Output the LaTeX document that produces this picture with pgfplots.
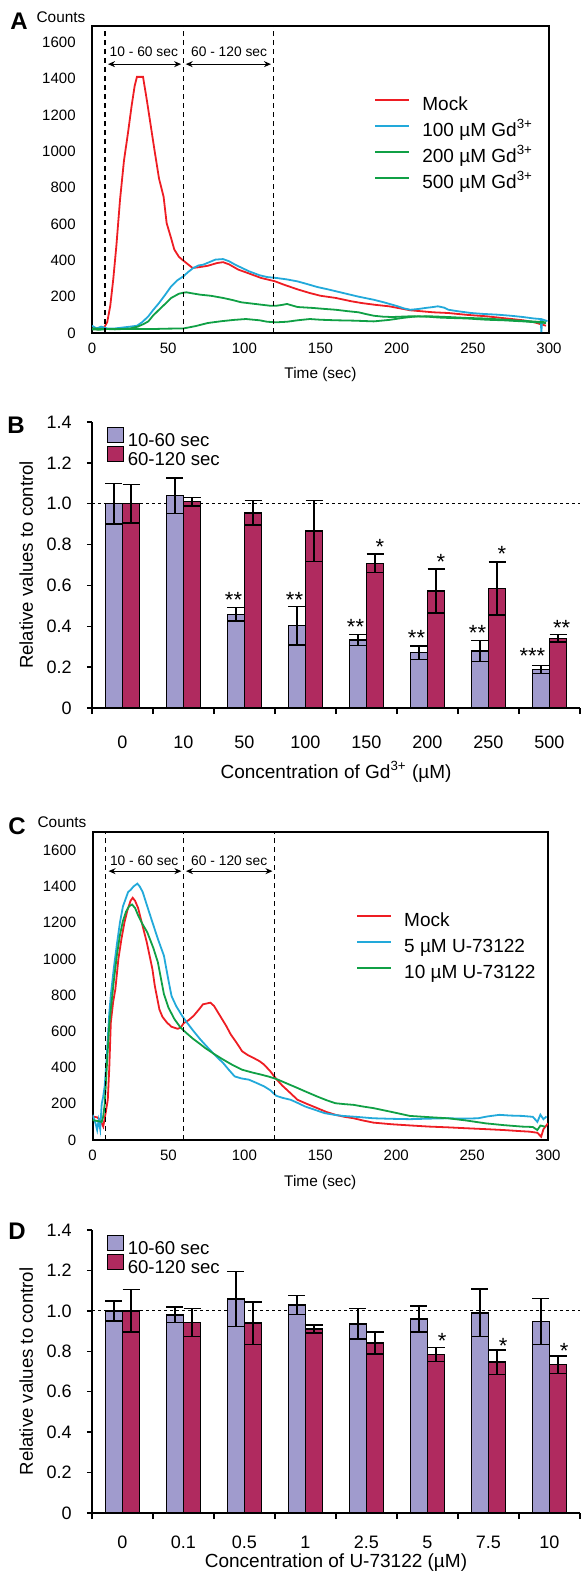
\documentclass[border=0pt]{standalone}
\usepackage{fontspec}
\setmainfont{Liberation Sans}
\usepackage{pgfplots}
\usepackage{pgfplotstable}
\pgfplotsset{compat=1.18}
\usetikzlibrary{arrows.meta}
\definecolor{mred}{HTML}{EE1D23}
\definecolor{mcyan}{HTML}{22A9DA}
\definecolor{mgreen}{HTML}{10A045}
\definecolor{barA}{HTML}{A09BCD}
\definecolor{barB}{HTML}{B02A5F}
\tikzset{starnode/.style={font=\fontsize{11}{12}\selectfont, inner sep=0pt}}

\pgfplotstableread{
x a aerr b berr
0 1.00 0.10 1.00 0.095
1 1.04 0.087 1.01 0.02
2 0.458 0.033 0.955 0.06
3 0.403 0.095 0.866 0.15
4 0.333 0.028 0.708 0.045
5 0.271 0.033 0.573 0.107
6 0.279 0.052 0.585 0.13
7 0.189 0.02 0.341 0.018
}\tableB
\pgfplotstableread{
x a aerr b berr
0 1.00 0.05 1.00 0.105
1 0.98 0.038 0.942 0.07
2 1.059 0.137 0.939 0.106
3 1.029 0.047 0.91 0.02
4 0.936 0.075 0.841 0.054
5 0.96 0.065 0.784 0.035
6 0.99 0.117 0.746 0.06
7 0.947 0.113 0.734 0.044
}\tableD

\pgfplotsset{
  linechart/.style={
    scale only axis, xmin=0, xmax=300, ymin=0,
    xtick={0,50,...,300}, ytick={0,200,...,1600},
    major tick length=0pt,
    axis line style={line width=1pt},
    tick label style={font=\fontsize{7.5}{9}\selectfont},
    /pgf/number format/assume math mode=true,
    /pgf/number format/1000 sep={},
    xticklabel style={anchor=center, yshift=-7.5pt},
    yticklabel style={anchor=east, inner sep=0pt, xshift=-8pt},
    xlabel style={font=\fontsize{7.7}{9}\selectfont, at={(axis description cs:0.5,0)}, anchor=center, yshift=-21pt},
    legend cell align=left,
    legend style={draw=none, fill=none, font=\fontsize{9.5}{11}\selectfont, inner sep=0pt, row sep=4pt,
      nodes={inner sep=0pt, text height=7pt, text depth=2pt},
      /tikz/every odd column/.style={column sep=6pt}},
    legend image code/.code={\draw[#1, line width=1pt] (0pt,2.5pt) -- (17pt,2.5pt);},
    every axis plot/.append style={line width=0.9pt},
  },
  barchart/.style={
    scale only axis, xmin=-0.5, xmax=7.5, ymin=0, ymax=1.4,
    axis x line*=bottom, axis y line*=left,
    axis line style={line width=0.75pt},
    xtick={0,...,7}, minor xtick={-0.5,0.5,...,7.5},
    major x tick style={draw=none},
    minor x tick style={black, line width=0.75pt},
    y tick style={black, line width=0.75pt},
    tick align=outside, major tick length=2.5pt, minor tick length=3pt,
    ytick={0,0.2,0.4,0.6,0.8,1.0,1.2,1.4},
    yticklabels={0,0.2,0.4,0.6,0.8,1.0,1.2,1.4},
    tick label style={font=\fontsize{9}{11}\selectfont},
    yticklabel style={anchor=east, inner sep=0pt, xshift=-7.5pt},
    ylabel={Relative values to control},
    ylabel style={font=\fontsize{9.3}{11}\selectfont, at={(axis description cs:-0.135,0.5)}, anchor=center},
    ybar, bar width=0.28,
    legend cell align=left,
    legend style={draw=none, fill=none, font=\fontsize{9.3}{11}\selectfont, inner sep=0pt, row sep=-2pt,
      nodes={inner sep=0pt, text height=7pt, text depth=2pt},
      /tikz/every odd column/.style={column sep=2pt},
      at={(axis description cs:0.029,0.985)}, anchor=north west},
    legend image code/.code={\draw[#1, draw=black, line width=0.6pt] (0pt,-0.5pt) rectangle (8pt,7pt);},
    error bars/y dir=both, error bars/y explicit,
    error bars/error bar style={line width=0.75pt, black},
    error bars/error mark options={rotate=90, mark size=4.25pt, line width=0.75pt, black},
  },
}

\begin{document}
\begin{tikzpicture}
\useasboundingbox (0,0) rectangle (290.5pt,-787pt);

% ---------------- Panel A ----------------
\node[font=\bfseries\fontsize{12}{14}\selectfont] at (9.5pt,-10.5pt) {A};
\node[font=\fontsize{7.7}{9}\selectfont] at (30.5pt,-8.5pt) {Counts};
\begin{axis}[linechart, at={(46pt,-166.5pt)}, anchor=south west,
  width=228.5pt, height=153.5pt, ymax=1690, xlabel={Time (sec)},
  legend style={at={(axis description cs:0.617,0.772)}, anchor=north west}]
\addplot[mred] coordinates {(0,25)(4,20)(8,30)(10,60)(12,150)(14,300)(16,480)(18.4,734)(21,950)(23.6,1100)(26,1250)(28,1360)(29.5,1410)(33.5,1410)(36,1282)(41,1008)(44,850)(47,750)(49,605)(52,520)(54,460)(57,420)(59,405)(62,385)(66,358)(70,362)(76,370)(82,385)(86,390)(90,378)(96,349)(103,328)(111,303)(120,285)(126,266)(135,240)(143,220)(150,205)(160,193)(170,175)(177,165)(186,155)(195,147)(209,125)(224,114)(234,110)(246,100)(259,92)(270,82)(283,70)(290,60)(296,45)(298,40)};
\addlegendentry{Mock}
\addplot[mcyan] coordinates {(0,40)(3,25)(6,35)(10,25)(15,25)(20,30)(25,35)(29.5,40)(33,60)(37,92)(40,125)(44,165)(48,210)(52,257)(56,290)(60,312)(63,335)(66.5,358)(70,372)(73,376)(77,390)(81,404)(86,407)(90,395)(94,376)(98,360)(103,340)(110,318)(115,308)(121,303)(128,295)(135,284)(141,270)(148,253)(155,240)(165,220)(175,200)(185,183)(192,168)(199.5,150)(205,135)(209,128)(214,132)(219,138)(224,143)(227,147)(231,140)(234,128)(240,120)(249,110)(257,105)(266,101)(275,95)(283,88)(290,80)(294.5,77)(295,5)(295.5,75)(299,65)};
\addlegendentry{100 µM Gd\textsuperscript{3+}}
\addplot[mgreen] coordinates {(0,20)(5,18)(10,22)(15,20)(20,22)(25,25)(30,35)(34,50)(37,64)(40,95)(44,128)(48,160)(52,193)(57,216)(60,222)(62,224)(66,218)(71,211)(78,205)(86,193)(92,182)(98,169)(105,162)(111,156)(117,150)(121,150)(125,155)(128,160)(132,150)(135,143)(145,138)(152,133)(160,128)(168,120)(175,114)(180,104)(185,95)(191,90)(197,88)(203,90)(209,92)(215,91)(222,92)(234,88)(246,83)(258,80)(271,73)(285,66)(298,59)};
\addlegendentry{200 µM Gd\textsuperscript{3+}}
\addplot[mgreen] coordinates {(0,25)(10,22)(20,22)(30,22)(40,22)(50,24)(60,25)(68,38)(76,55)(85,65)(93,72)(101,77)(110,70)(115,62)(121,59)(128,62)(135,70)(143,77)(150,73)(160,70)(172,68)(185,64)(195,72)(204,83)(209,88)(214,92)(220,90)(228,85)(234,83)(246,80)(259,73)(270,70)(283,64)(298,55)};
\addlegendentry{500 µM Gd\textsuperscript{3+}}
\draw[dash pattern=on 2.5pt off 2pt, line width=0.65pt] (axis cs:8.5,0) -- (axis cs:8.5,1690);
\draw[dash pattern=on 2.5pt off 2pt, line width=0.65pt] (axis cs:60,0) -- (axis cs:60,1690);
\draw[dash pattern=on 2.5pt off 2pt, line width=0.65pt] (axis cs:119,0) -- (axis cs:119,1690);
\draw[{Stealth[length=3.5pt,width=3pt]}-{Stealth[length=3.5pt,width=3pt]}, line width=0.6pt] (axis cs:10.5,1480) -- (axis cs:58.5,1480);
\draw[{Stealth[length=3.5pt,width=3pt]}-{Stealth[length=3.5pt,width=3pt]}, line width=0.6pt] (axis cs:61.5,1480) -- (axis cs:117.5,1480);
\node[font=\fontsize{6.9}{8}\selectfont] at (axis cs:34,1546) {10 - 60 sec};
\node[font=\fontsize{6.9}{8}\selectfont] at (axis cs:90,1546) {60 - 120 sec};
\end{axis}

% ---------------- Panel B ----------------
\node[font=\bfseries\fontsize{12}{14}\selectfont] at (8pt,-212.5pt) {B};
\begin{axis}[barchart, at={(46pt,-354pt)}, anchor=south west,
  width=244pt, height=143pt,
  xticklabels={0,10,50,100,150,200,250,500},
  xticklabel style={anchor=center, yshift=-14.5pt},
  xlabel={Concentration of Gd\textsuperscript{3+} (µM)},
  xlabel style={font=\fontsize{9.5}{11}\selectfont, at={(axis description cs:0.5,0)}, anchor=center, yshift=-32pt}]
\addplot[forget plot, dash pattern=on 1.5pt off 1.5pt, line width=0.6pt, sharp plot] coordinates {(-0.5,1) (7.5,1)};
\addplot[fill=barA, draw=black, line width=0.75pt, bar shift=-0.14] table[x=x, y=a, y error=aerr] {\tableB};
\addlegendentry{10-60 sec}
\addplot[fill=barB, draw=black, line width=0.75pt, bar shift=0.14] table[x=x, y=b, y error=berr] {\tableB};
\addlegendentry{60-120 sec}
\node[starnode] at (axis cs:1.82,0.529) {**};
\node[starnode] at (axis cs:2.82,0.529) {**};
\node[starnode] at (axis cs:3.82,0.396) {**};
\node[starnode] at (axis cs:4.82,0.342) {**};
\node[starnode] at (axis cs:5.82,0.366) {**};
\node[starnode] at (axis cs:6.72,0.255) {***};
\node[starnode] at (axis cs:7.2,0.393) {**};
\node[starnode] at (axis cs:4.22,0.789) {*};
\node[starnode] at (axis cs:5.22,0.716) {*};
\node[starnode] at (axis cs:6.22,0.756) {*};
\end{axis}

% ---------------- Panel C ----------------
\node[font=\bfseries\fontsize{12}{14}\selectfont] at (8.5pt,-413pt) {C};
\node[font=\fontsize{7.7}{9}\selectfont] at (31pt,-411pt) {Counts};
\begin{axis}[linechart, at={(46.3pt,-570pt)}, anchor=south west,
  width=227.7pt, height=154pt, ymax=1700, xlabel={Time (sec)},
  legend style={at={(axis description cs:0.578,0.74)}, anchor=north west}]
\addplot[mred] coordinates {(0,130)(3,125)(5,110)(7,74)(8,120)(9,170)(10,222)(11,400)(12,648)(13.5,760)(15,833)(17,1000)(19,1110)(21,1202)(23,1270)(25,1320)(26.4,1337)(28,1320)(30,1280)(33,1180)(35.7,1091)(39.4,943)(41,850)(44,721)(46,680)(49,648)(52,625)(56,614)(58,620)(60,645)(63,660)(66.5,685)(70,720)(72.7,749)(77.6,758)(80,740)(84,685)(88,630)(91,583)(95,535)(98.5,490)(102,470)(106,453)(110,435)(113,416)(117,380)(121,337)(125,300)(128,277)(135,222)(141,200)(148,176)(154,155)(160,139)(166,128)(172,120)(178,108)(185,96)(197,87)(210,80)(222,74)(234,70)(246,65)(259,60)(271,55)(280,50)(288,46)(293,40)(295.5,18)(297,60)(300,92)};
\addlegendentry{Mock}
\addplot[mcyan] coordinates {(0,139)(2,90)(3,55)(4,110)(5,60)(6,200)(7,240)(8,300)(9,420)(10,560)(11,700)(12,800)(14,950)(16,1080)(18,1200)(20,1290)(21,1313)(23.4,1369)(25,1380)(27,1400)(29.5,1415)(31,1400)(33,1369)(36,1290)(39.4,1202)(43,1110)(47,1017)(50,880)(52,795)(55,740)(59,685)(62,650)(66.5,601)(71,555)(76,509)(81,465)(86,425)(90,385)(93.6,351)(98,340)(103,333)(108,315)(113,296)(117,275)(121,244)(125,233)(130.5,222)(135,205)(140,185)(147,165)(153,148)(160,138)(165,133)(175,127)(185,120)(197,117)(209,115)(222,118)(234,120)(245,118)(254,120)(260,130)(268,139)(275,135)(283,133)(290,128)(293,100)(295,140)(297,115)(299,130)};
\addlegendentry{5 µM U-73122}
\addplot[mgreen] coordinates {(0,110)(3,105)(6,100)(7,130)(8,200)(9,350)(10,500)(11,640)(12,720)(14,880)(16,1020)(18,1130)(20,1210)(22,1260)(24,1290)(26,1300)(28,1280)(30,1240)(33,1190)(36,1147)(40,1060)(43,981)(47,805)(50,730)(54,666)(58,620)(61.6,592)(66,560)(70,535)(74,509)(80,475)(86,444)(92,415)(98.5,388)(105,373)(111,361)(116,350)(121,337)(128,312)(135,287)(141,265)(148,240)(154,220)(160,203)(166,198)(172,194)(178,185)(185,176)(197,155)(209,133)(222,126)(234,120)(246,108)(259,92)(271,82)(283,74)(290,72)(293,55)(295,80)(298,74)};
\addlegendentry{10 µM U-73122}
\draw[dash pattern=on 2.5pt off 2pt, line width=0.65pt] (axis cs:8.5,0) -- (axis cs:8.5,1700);
\draw[dash pattern=on 2.5pt off 2pt, line width=0.65pt] (axis cs:60,0) -- (axis cs:60,1700);
\draw[dash pattern=on 2.5pt off 2pt, line width=0.65pt] (axis cs:120,0) -- (axis cs:120,1700);
\draw[{Stealth[length=3.5pt,width=3pt]}-{Stealth[length=3.5pt,width=3pt]}, line width=0.6pt] (axis cs:10.5,1484) -- (axis cs:58.5,1484);
\draw[{Stealth[length=3.5pt,width=3pt]}-{Stealth[length=3.5pt,width=3pt]}, line width=0.6pt] (axis cs:61.5,1484) -- (axis cs:118.5,1484);
\node[font=\fontsize{6.9}{8}\selectfont] at (axis cs:34,1540) {10 - 60 sec};
\node[font=\fontsize{6.9}{8}\selectfont] at (axis cs:90,1540) {60 - 120 sec};
\end{axis}

% ---------------- Panel D ----------------
\node[font=\bfseries\fontsize{12}{14}\selectfont] at (8.5pt,-615.5pt) {D};
\begin{axis}[barchart, at={(46pt,-756.5pt)}, anchor=south west,
  width=244pt, height=141.5pt,
  xticklabels={0,0.1,0.5,1,2.5,5,7.5,10},
  xticklabel style={anchor=center, yshift=-12pt},
  xlabel={Concentration of U-73122 (µM)},
  xlabel style={font=\fontsize{9.5}{11}\selectfont, at={(axis description cs:0.5,0)}, anchor=center, yshift=-25pt}]
\addplot[forget plot, dash pattern=on 1.5pt off 1.5pt, line width=0.6pt, sharp plot] coordinates {(-0.5,1) (7.5,1)};
\addplot[fill=barA, draw=black, line width=0.75pt, bar shift=-0.14] table[x=x, y=a, y error=aerr] {\tableD};
\addlegendentry{10-60 sec}
\addplot[fill=barB, draw=black, line width=0.75pt, bar shift=0.14] table[x=x, y=b, y error=berr] {\tableD};
\addlegendentry{60-120 sec}
\node[starnode] at (axis cs:5.24,0.85) {*};
\node[starnode] at (axis cs:6.24,0.829) {*};
\node[starnode] at (axis cs:7.24,0.801) {*};
\end{axis}
\end{tikzpicture}
\end{document}
